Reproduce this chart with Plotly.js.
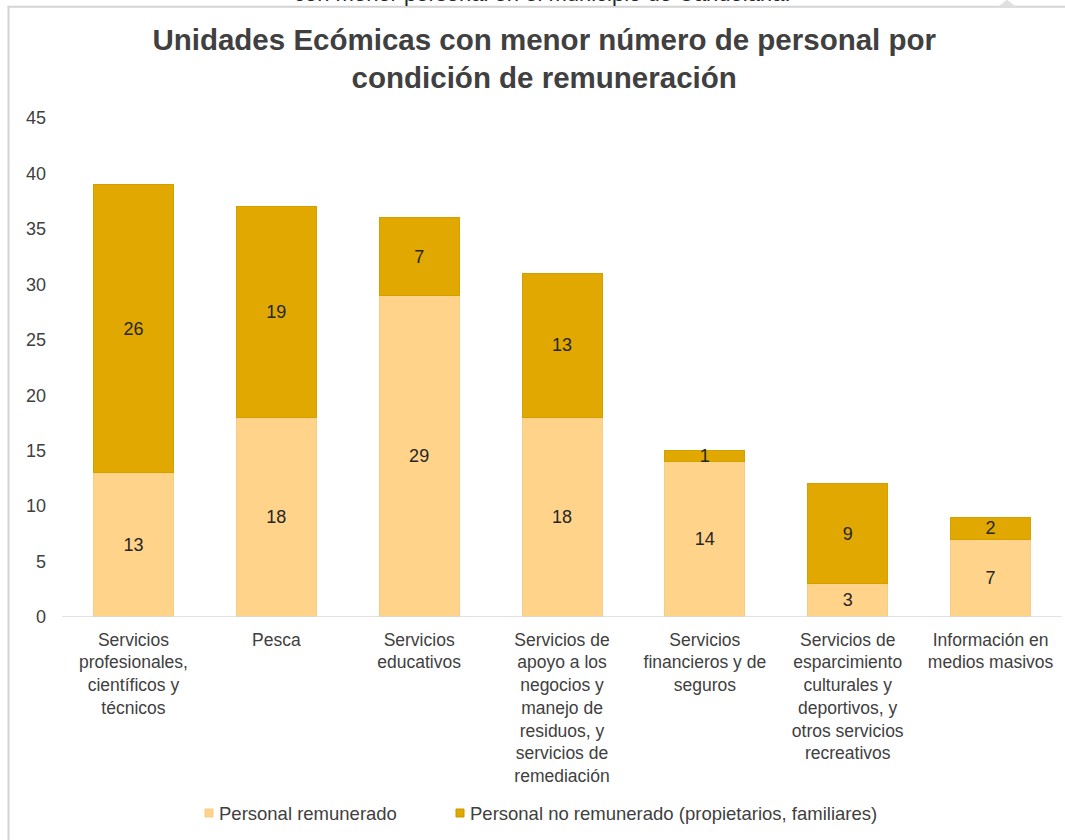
<!DOCTYPE html>
<html>
<head>
<meta charset="utf-8">
<script src="https://cdn.plot.ly/plotly-3.0.1.min.js"></script>
<style>html,body{margin:0;padding:0;background:#fff;}#chart{width:1065px;height:840px;}</style>
</head>
<body>
<div id="chart"></div>
<script>
const categories = [
  "Servicios<br>profesionales,<br>científicos y<br>técnicos",
  "Pesca",
  "Servicios<br>educativos",
  "Servicios de<br>apoyo a los<br>negocios y<br>manejo de<br>residuos, y<br>servicios de<br>remediación",
  "Servicios<br>financieros y de<br>seguros",
  "Servicios de<br>esparcimiento<br>culturales y<br>deportivos, y<br>otros servicios<br>recreativos",
  "Información en<br>medios masivos"
];
const remunerado = [13, 18, 29, 18, 14, 3, 7];
const noRemunerado = [26, 19, 7, 13, 1, 9, 2];
const seriesNames = ["Personal remunerado", "Personal no remunerado (propietarios, familiares)"];
const seriesColors = ["#FFD38A", "#E0A800"];
const yTicks = [0, 5, 10, 15, 20, 25, 30, 35, 40, 45];

const font = "Liberation Sans, Arial, sans-serif";
const labelFont = {family: font, size: 18, color: "#262626"};
const traces = [
  {
    type: "bar", x: categories, y: remunerado, name: seriesNames[0],
    marker: {color: seriesColors[0], line: {color: "#F7CC85", width: 1}},
    text: remunerado.map(String), textposition: "inside", insidetextanchor: "middle",
    textangle: 0, constraintext: "none", cliponaxis: false,
    textfont: labelFont, hoverinfo: "y"
  },
  {
    type: "bar", x: categories, y: noRemunerado, name: seriesNames[1],
    marker: {color: seriesColors[1], line: {color: "#D4A000", width: 1}},
    text: noRemunerado.map(String), textposition: "inside", insidetextanchor: "middle",
    textangle: 0, constraintext: "none", cliponaxis: false,
    textfont: labelFont, hoverinfo: "y"
  }
];

// manual legend (small squares like the reference)
const legendX = [0.143, 0.394];
const legendY = -0.3928;
const sqY = 0.008;
const legendShapes = seriesNames.map((n, i) => ({
  type: "rect", xref: "paper", yref: "paper",
  x0: legendX[i], x1: legendX[i] + 0.008, y0: legendY - sqY, y1: legendY + sqY,
  fillcolor: seriesColors[i], line: {color: i === 0 ? "#F7CC85" : "#C89600", width: 1}
}));
const legendAnn = seriesNames.map((n, i) => ({
  xref: "paper", yref: "paper", x: legendX[i] + 0.012, y: legendY,
  xanchor: "left", yanchor: "middle", showarrow: false, text: n,
  font: {family: font, size: 18.5, color: "#404040"}
}));

const layout = {
  width: 1065, height: 840,
  paper_bgcolor: "#ffffff", plot_bgcolor: "#ffffff",
  margin: {l: 62, r: 3, t: 118, b: 223},
  barmode: "stack", bargap: 0.44,
  font: {family: font, size: 18, color: "#404040"},
  title: {
    text: "<b>Unidades Ecómicas con menor número de personal por<br>condición de remuneración</b>",
    font: {family: font, size: 29.5, color: "#404040"},
    xref: "container", yref: "container",
    x: 0.511, xanchor: "center", y: 1 - 50 / 840, yanchor: "middle"
  },
  xaxis: {
    showgrid: false, zeroline: false, showline: false,
    tickfont: {family: font, size: 17.5, color: "#404040"},
    ticks: "", ticklabelstandoff: 10, automargin: false
  },
  yaxis: {
    range: [0, 45], tickvals: yTicks, showgrid: false, zeroline: false, showline: false,
    tickfont: {family: font, size: 18, color: "#404040"},
    ticks: "", ticklabelstandoff: 15, automargin: false, fixedrange: true
  },
  showlegend: false,
  shapes: [
    {type: "line", xref: "paper", yref: "y", x0: 0, x1: 1, y0: 0, y1: 0, line: {color: "#D9D9D9", width: 1.5}},
    {type: "line", xref: "paper", yref: "paper", x0: -0.0535, x1: -0.0535, y0: -0.5, y1: 1.223, line: {color: "#D4D4D4", width: 2}},
    {type: "line", xref: "paper", yref: "paper", x0: -0.0545, x1: 1.01, y0: 1.223, y1: 1.223, line: {color: "#D4D4D4", width: 2}},
    {type: "path", xref: "paper", yref: "paper", path: "M 0.936 1.223 L 0.945 1.237 L 0.954 1.223 Z", fillcolor: "#E0E0E0", line: {width: 0}}
  ].concat(legendShapes),
  annotations: [
    {xref: "paper", yref: "paper", x: 0.48, y: 1.2485, xanchor: "center", yanchor: "middle", showarrow: false,
     text: "con menor personal en el municipio de Candelaria.", font: {family: font, size: 22, color: "#262626"}}
  ].concat(legendAnn)
};

Plotly.newPlot("chart", traces, layout, {displayModeBar: false, staticPlot: true});
</script>
</body>
</html>
